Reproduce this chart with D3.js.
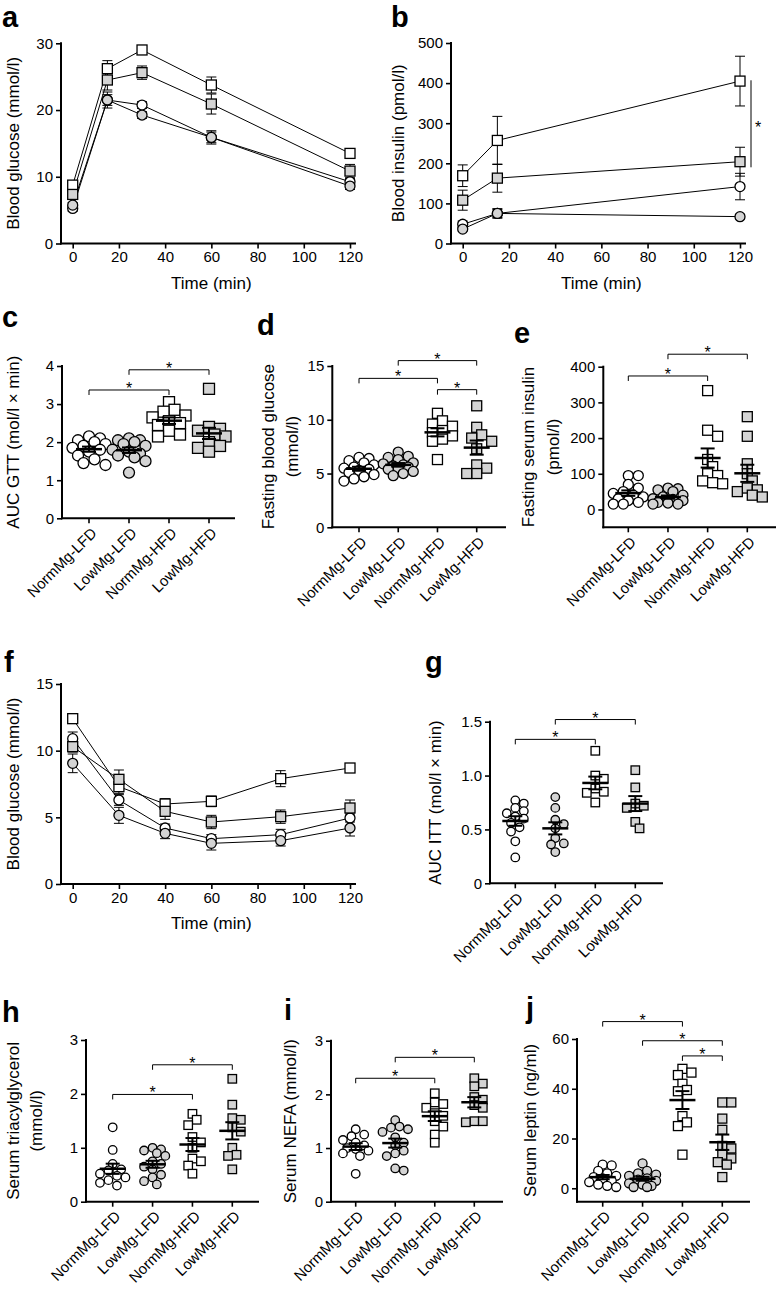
<!DOCTYPE html>
<html>
<head>
<meta charset="utf-8">
<script src="https://cdn.jsdelivr.net/npm/d3@7"></script>
<style>
  body { margin: 0; background: #fff; }
  svg { display: block; }
</style>
</head>
<body>
<svg id="fig" width="777" height="1291"></svg>
<script>
// groups, in the order used by every data array below
const groups = ["NormMg-LFD", "LowMg-LFD", "NormMg-HFD", "LowMg-HFD"];
const shapes = ["circle", "circle", "square", "square"];
const fills = ["#ffffff", "#d4d4d4", "#ffffff", "#d4d4d4"];

// a: glucose tolerance test
const gttTime = [0, 15, 30, 60, 120];
const gttMean = [
    [5.25, 21.5, 20.75, 15.9, 9.25],
    [5.75, 21.5, 19.25, 15.9, 8.6],
    [8.75, 26.2, 29.0, 23.75, 13.5],
    [7.35, 24.5, 25.6, 20.9, 10.85]
];
const gttSem = [
    [0.4, 0.8, 0.5, 0.8, 0.5],
    [0.4, 1.2, 0.5, 1.0, 0.5],
    [0.5, 1.2, 0.6, 1.2, 0.6],
    [0.5, 1.5, 1.0, 1.5, 1.0]
];

// b: insulin during GTT
const insTime = [0, 15, 120];
const insMean = [
    [48, 75, 142],
    [36, 75, 67],
    [169, 257, 405],
    [108, 163, 204]
];
const insSem = [
    [8, 10, 33],
    [5, 12, 6],
    [27, 60, 62],
    [25, 35, 36]
];

// f: insulin tolerance test
const ittTime = [0, 20, 40, 60, 90, 120];
const ittMean = [
    [10.9, 6.3, 4.2, 3.4, 3.7, 4.95],
    [9.05, 5.15, 3.8, 3.05, 3.25, 4.2],
    [12.4, 7.3, 6.0, 6.2, 7.9, 8.7],
    [10.3, 7.85, 5.45, 4.65, 5.05, 5.7]
];
const ittSem = [
    [0.5, 0.4, 0.3, 0.3, 0.4, 0.3],
    [0.7, 0.6, 0.4, 0.5, 0.4, 0.6],
    [0.3, 0.5, 0.4, 0.4, 0.6, 0.3],
    [0.4, 0.7, 0.6, 0.5, 0.5, 0.6]
];

// c
const aucGtt = [
    [2.15, 2.1, 2.05, 2.0, 1.95, 1.9, 1.85, 1.8, 1.75, 1.65, 1.55, 1.45, 1.4],
    [2.1, 2.05, 2.05, 2.0, 1.95, 1.9, 1.8, 1.75, 1.7, 1.65, 1.6, 1.5, 1.2],
    [3.05, 2.85, 2.8, 2.7, 2.65, 2.55, 2.5, 2.45, 2.3, 2.2, 2.15],
    [3.4, 2.4, 2.35, 2.3, 2.2, 2.15, 2.0, 1.9, 1.85, 1.75]
];
// d
const fastGlucose = [
    [6.5, 6.4, 6.2, 6.0, 5.8, 5.6, 5.5, 5.4, 5.3, 5.1, 4.9, 4.7, 4.5, 4.3],
    [7.0, 6.6, 6.5, 6.3, 6.0, 5.9, 5.8, 5.7, 5.6, 5.5, 5.4, 5.2, 5.0, 4.8],
    [10.6, 9.9, 9.6, 9.4, 9.0, 8.8, 8.5, 8.2, 8.0, 6.3],
    [11.3, 9.3, 8.6, 8.3, 8.0, 7.3, 5.8, 5.5, 5.0, 5.0]
];
// e
const fastInsulin = [
    [95, 95, 70, 60, 50, 45, 40, 35, 30, 25, 20, 15, 15],
    [60, 58, 55, 50, 40, 35, 30, 28, 25, 20, 18, 15, 15],
    [333, 222, 205, 140, 120, 100, 95, 80, 75, 72],
    [260, 205, 128, 100, 80, 60, 55, 50, 40, 35]
];
// g
const aucItt = [
    [0.77, 0.74, 0.7, 0.67, 0.65, 0.62, 0.6, 0.56, 0.52, 0.48, 0.39, 0.24],
    [0.8, 0.7, 0.59, 0.55, 0.51, 0.42, 0.37, 0.36, 0.29],
    [1.23, 1.0, 0.97, 0.88, 0.85, 0.84, 0.75],
    [1.05, 0.89, 0.74, 0.72, 0.7, 0.57, 0.51]
];
// h
const serumTag = [
    [1.38, 0.96, 0.7, 0.6, 0.58, 0.52, 0.48, 0.45, 0.4, 0.35, 0.3],
    [1.0, 0.97, 0.95, 0.9, 0.85, 0.75, 0.7, 0.65, 0.6, 0.5, 0.45, 0.38, 0.32],
    [1.63, 1.52, 1.42, 1.2, 1.1, 1.0, 0.8, 0.75, 0.67, 0.52],
    [2.28, 1.8, 1.55, 1.52, 1.38, 1.3, 1.0, 0.87, 0.85, 0.6]
];
// i
const serumNefa = [
    [1.35, 1.25, 1.22, 1.15, 1.1, 1.05, 1.0, 0.98, 0.95, 0.9, 0.85, 0.52],
    [1.52, 1.4, 1.38, 1.35, 1.3, 1.2, 1.1, 1.05, 0.95, 0.9, 0.85, 0.62, 0.58],
    [2.02, 1.85, 1.82, 1.75, 1.65, 1.6, 1.5, 1.4, 1.25, 1.1],
    [2.3, 2.2, 2.15, 1.95, 1.9, 1.8, 1.75, 1.5, 1.5, 1.48]
];
// j
const serumLeptin = [
    [9.5, 9.2, 7, 6, 5, 4.5, 4, 3, 2.5, 1.5, 1, 0.5],
    [10, 7, 6, 5.5, 5, 4, 3.5, 3, 2, 1.5, 1, 0.5, 0.5],
    [48, 46.5, 45.5, 42, 39.5, 39, 29, 26.5, 25, 13.5],
    [34.5, 34.5, 28, 23.5, 17, 16, 13.5, 12, 10.5, 9.5, 4.5]
];

// significance brackets: [group from, group to, height]
const gttStars = [[0, 2, 3.37], [1, 3, 3.9]];
const fastGluStars = [[0, 2, 13.85], [1, 3, 15.5], [2, 3, 12.8]];
const fastInsStars = [[0, 2, 374], [1, 3, 435]];
const ittStars = [[0, 2, 1.336], [1, 3, 1.52]];
const tagStars = [[0, 2, 1.99], [1, 3, 2.54]];
const nefaStars = [[0, 2, 2.3], [1, 3, 2.69]];
const leptinStars = [[0, 2, 67], [1, 3, 59.3], [2, 3, 53.2]];

const font = '"Liberation Sans", Arial, Helvetica, sans-serif';
const svg = d3.select("#fig");

function drawMarker(g, shape, fill, cx, cy, s) {
    if (shape === "circle") {
        g.append("circle").attr("cx", cx).attr("cy", cy).attr("r", s / 2)
            .attr("fill", fill).attr("stroke", "#000").attr("stroke-width", 1.3);
    } else {
        g.append("rect").attr("x", cx - s / 2).attr("y", cy - s / 2)
            .attr("width", s).attr("height", s)
            .attr("fill", fill).attr("stroke", "#000").attr("stroke-width", 1.3);
    }
}

function letter(t, x, y) {
    svg.append("text").attr("x", x).attr("y", y).text(t)
        .attr("font-family", font).attr("font-weight", "bold").attr("font-size", 29);
}

function yTitle(lines, xs, cy) {
    lines.forEach((t, i) => {
        svg.append("text")
            .attr("transform", `translate(${xs[i]},${cy}) rotate(-90)`)
            .attr("text-anchor", "middle").attr("dy", "0.35em")
            .attr("font-family", font).attr("font-size", 17).text(t);
    });
}

function leftAxis(g, y, ax, ticks, fmt, bottom) {
    g.append("g").attr("transform", `translate(${ax},0)`)
        .call(d3.axisLeft(y).tickValues(ticks).tickFormat(fmt).tickSize(5).tickPadding(3))
        .call(s => s.select(".domain").remove())
        .call(s => s.selectAll("line").attr("stroke-width", 1.6))
        .call(s => s.selectAll("text").attr("font-family", font).attr("font-size", 15).attr("fill", "#000"));
    g.append("line").attr("x1", ax).attr("x2", ax)
        .attr("y1", bottom).attr("y2", y(ticks[ticks.length - 1]))
        .attr("stroke", "#000").attr("stroke-width", 2).attr("stroke-linecap", "square");
}

function linePanel(o) {
    const g = svg.append("g");
    const x = d3.scaleLinear().domain([0, 120]).range(o.xr);
    const y = d3.scaleLinear().domain(o.yd).range(o.yr);
    const bottom = o.yr[0];

    const line = d3.line().x(d => x(d[0])).y(d => y(d[1]));
    o.mean.forEach((ser, gi) => {
        g.append("path").datum(o.time.map((t, k) => [t, ser[k]]))
            .attr("d", line).attr("fill", "none").attr("stroke", "#000").attr("stroke-width", 1);
    });
    o.mean.forEach((ser, gi) => {
        ser.forEach((v, k) => {
            const cx = x(o.time[k]), e = o.sem[gi][k];
            const y1 = y(v - e), y2 = y(v + e);
            g.append("line").attr("x1", cx).attr("x2", cx).attr("y1", y1).attr("y2", y2)
                .attr("stroke", "#000").attr("stroke-width", 1);
            [y1, y2].forEach(yy => g.append("line").attr("x1", cx - 5).attr("x2", cx + 5)
                .attr("y1", yy).attr("y2", yy).attr("stroke", "#000").attr("stroke-width", 1));
        });
    });
    o.mean.forEach((ser, gi) => {
        ser.forEach((v, k) => drawMarker(g, shapes[gi], fills[gi], x(o.time[k]), y(v), 10));
    });

    leftAxis(g, y, o.ax, o.yt, d3.format("d"), bottom);
    g.append("g").attr("transform", `translate(0,${bottom})`)
        .call(d3.axisBottom(x).tickValues([0, 20, 40, 60, 80, 100, 120]).tickSize(5).tickPadding(3))
        .call(s => s.select(".domain").remove())
        .call(s => s.selectAll("line").attr("stroke-width", 1.6))
        .call(s => s.selectAll("text").attr("font-family", font).attr("font-size", 15).attr("fill", "#000"));
    g.append("line").attr("x1", o.ax).attr("x2", o.xEnd).attr("y1", bottom).attr("y2", bottom)
        .attr("stroke", "#000").attr("stroke-width", 2).attr("stroke-linecap", "square");

    g.append("text").attr("x", (o.xr[0] + o.xr[1]) / 2).attr("y", o.xTitleY)
        .attr("text-anchor", "middle").attr("font-family", font).attr("font-size", 17)
        .text("Time (min)");
    yTitle([o.title], [o.titleX], (o.yr[0] + o.yr[1]) / 2);
    return {x, y, g};
}

// horizontal spread of overlapping points, kept narrow like the original
function swarm(py, s) {
    const order = py.map((v, i) => i).sort((a, b) => py[a] - py[b]);
    const offs = new Array(py.length).fill(0);
    const placed = [];
    const step = s * 0.5;
    const cands = [0, step, -step, 2 * step, -2 * step, 3 * step, -3 * step];
    order.forEach(i => {
        let best = 0, bestD = -1;
        for (const dx of cands) {
            const dmin = placed.length
                ? d3.min(placed, p => Math.hypot(p[0] - dx, p[1] - py[i])) : Infinity;
            if (dmin >= s * 0.85) { best = dx; bestD = Infinity; break; }
            if (dmin > bestD) { bestD = dmin; best = dx; }
        }
        offs[i] = best;
        placed.push([best, py[i]]);
    });
    return offs;
}

function scatterPanel(o) {
    const g = svg.append("g");
    const x = d3.scalePoint().domain(groups).range(o.xr);
    const y = d3.scaleLinear().domain(o.yd).range(o.yr);
    const bottom = o.yr[0];

    o.data.forEach((vals, gi) => {
        const offs = swarm(vals.map(y), o.ms);
        vals.forEach((v, k) => drawMarker(g, shapes[gi], fills[gi], x(groups[gi]) + offs[k], y(v), o.ms));
    });
    o.data.forEach((vals, gi) => {
        const m = d3.mean(vals), se = d3.deviation(vals) / Math.sqrt(vals.length);
        const cx = x(groups[gi]);
        g.append("line").attr("x1", cx - 13).attr("x2", cx + 13).attr("y1", y(m)).attr("y2", y(m))
            .attr("stroke", "#000").attr("stroke-width", 2.5);
        g.append("line").attr("x1", cx).attr("x2", cx).attr("y1", y(m - se)).attr("y2", y(m + se))
            .attr("stroke", "#000").attr("stroke-width", 2);
        [m - se, m + se].forEach(v => g.append("line").attr("x1", cx - 7).attr("x2", cx + 7)
            .attr("y1", y(v)).attr("y2", y(v)).attr("stroke", "#000").attr("stroke-width", 2));
    });

    leftAxis(g, y, o.ax, o.yt, o.fmt || d3.format("d"), bottom);
    g.append("line").attr("x1", o.ax).attr("x2", o.xEnd).attr("y1", bottom).attr("y2", bottom)
        .attr("stroke", "#000").attr("stroke-width", 2).attr("stroke-linecap", "square");
    groups.forEach(name => {
        const cx = x(name);
        g.append("line").attr("x1", cx).attr("x2", cx).attr("y1", bottom).attr("y2", bottom + 5)
            .attr("stroke", "#000").attr("stroke-width", 1.6);
        g.append("text")
            .attr("transform", `translate(${cx + 5},${bottom + 12}) rotate(-45)`)
            .attr("text-anchor", "end").attr("dy", "0.35em")
            .attr("font-family", font).attr("font-size", 15).text(name);
    });

    o.stars.forEach(([a, b, v]) => {
        const x1 = x(groups[a]), x2 = x(groups[b]), yy = y(v);
        g.append("path").attr("d", `M${x1},${yy + 5}V${yy}H${x2}V${yy + 5}`)
            .attr("fill", "none").attr("stroke", "#000").attr("stroke-width", 1);
        g.append("text").attr("x", (x1 + x2) / 2).attr("y", yy + 4)
            .attr("text-anchor", "middle").attr("font-family", font).attr("font-size", 16).text("*");
    });

    yTitle(o.title, o.titleX, (o.yr[0] + y(o.yt[o.yt.length - 1])) / 2);
}

// ---- panels ----
letter("a", 2, 27);
linePanel({time: gttTime, mean: gttMean, sem: gttSem, ax: 61, xr: [72.7, 350], xEnd: 355,
    yd: [0, 30], yr: [243.5, 43.3], yt: [0, 10, 20, 30], xTitleY: 289,
    title: "Blood glucose (mmol/l)", titleX: 13});

letter("b", 391, 27);
const pb = linePanel({time: insTime, mean: insMean, sem: insSem, ax: 451, xr: [462.7, 740], xEnd: 745,
    yd: [0, 500], yr: [243.5, 43], yt: [0, 100, 200, 300, 400, 500], xTitleY: 289,
    title: "Blood insulin (pmol/l)", titleX: 398});
pb.g.append("line").attr("x1", 751).attr("x2", 751).attr("y1", pb.y(407)).attr("y2", pb.y(190))
    .attr("stroke", "#000").attr("stroke-width", 1);
pb.g.append("text").attr("x", 758).attr("y", pb.y(298) + 9).attr("text-anchor", "middle")
    .attr("font-family", font).attr("font-size", 16).text("*");

letter("c", 2, 327);
scatterPanel({data: aucGtt, stars: gttStars, ax: 62, xr: [89, 209], xEnd: 234,
    yd: [0, 4], yr: [518.3, 366], yt: [0, 1, 2, 3, 4], ms: 11,
    title: ["AUC GTT (mol/l \u00d7 min)"], titleX: [13]});

letter("d", 257, 335);
scatterPanel({data: fastGlucose, stars: fastGluStars, ax: 332.3, xr: [359, 476.7], xEnd: 505,
    yd: [0, 15], yr: [527.3, 366], yt: [0, 5, 10, 15], ms: 10,
    title: ["Fasting blood glucose", "(mmol/l)"], titleX: [268, 292]});

letter("e", 514, 343);
scatterPanel({data: fastInsulin, stars: fastInsStars, ax: 603.3, xr: [628.3, 747.3], xEnd: 775,
    yd: [-50, 400], yr: [527.3, 366.7], yt: [0, 100, 200, 300, 400], ms: 10,
    title: ["Fasting serum insulin", "(pmol/l)"], titleX: [528, 553]});

letter("f", 4, 672);
linePanel({time: ittTime, mean: ittMean, sem: ittSem, ax: 61, xr: [72.7, 350], xEnd: 355,
    yd: [0, 15], yr: [884, 684], yt: [0, 5, 10, 15], xTitleY: 929,
    title: "Blood glucose (mmol/l)", titleX: 13});

letter("g", 425, 672);
scatterPanel({data: aucItt, stars: ittStars, ax: 490, xr: [515.3, 635.3], xEnd: 662,
    yd: [0, 1.5], yr: [883.3, 721.7], yt: [0, 0.5, 1, 1.5], ms: 8.5,
    fmt: d => d === 0 ? "0" : d3.format(".1f")(d),
    title: ["AUC ITT (mol/l \u00d7 min)"], titleX: [435]});

letter("h", 2, 1022);
scatterPanel({data: serumTag, stars: tagStars, ax: 86, xr: [112.7, 232.3], xEnd: 258,
    yd: [0, 3], yr: [1201.7, 1040], yt: [0, 1, 2, 3], ms: 8.5,
    title: ["Serum triacylglycerol", "(mmol/l)"], titleX: [13, 36]});

letter("i", 284, 1020);
scatterPanel({data: serumNefa, stars: nefaStars, ax: 331, xr: [355.7, 474.3], xEnd: 502,
    yd: [0, 3], yr: [1201.7, 1040.7], yt: [0, 1, 2, 3], ms: 8.5,
    title: ["Serum NEFA (mmol/l)"], titleX: [290]});

letter("j", 526, 1018);
scatterPanel({data: serumLeptin, stars: leptinStars, ax: 577, xr: [602.7, 722.3], xEnd: 749,
    yd: [-5.4, 60], yr: [1201.7, 1039], yt: [0, 20, 40, 60], ms: 9,
    title: ["Serum leptin (ng/ml)"], titleX: [530]});
</script>
</body>
</html>
